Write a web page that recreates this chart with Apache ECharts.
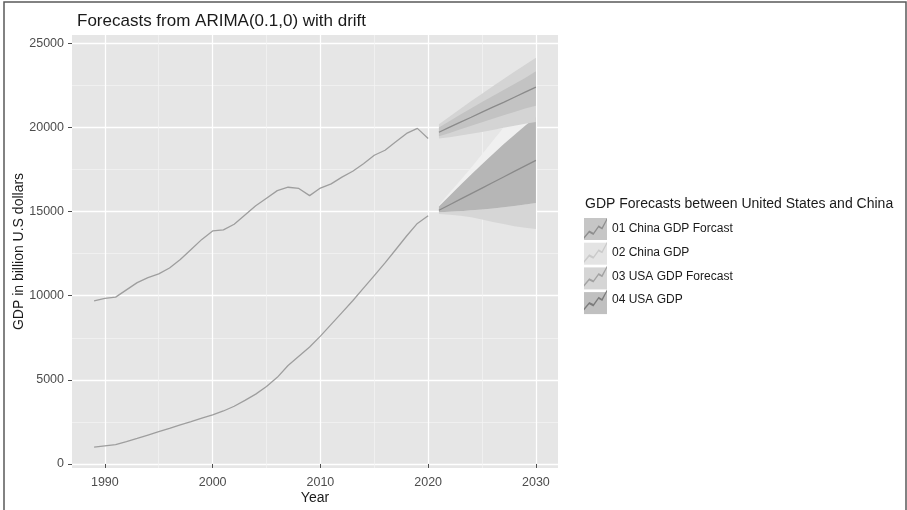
<!DOCTYPE html>
<html>
<head>
<meta charset="utf-8">
<script src="https://cdn.jsdelivr.net/npm/echarts@6/dist/echarts.min.js"></script>
<style>
html,body{margin:0;padding:0;background:#fff;}
#main{width:907px;height:510px;}
</style>
</head>
<body>
<div id="main"></div>
<script>
// ---- data ----
const histYears = [1989,1990,1991,1992,1993,1994,1995,1996,1997,1998,1999,2000,2001,2002,2003,2004,2005,2006,2007,2008,2009,2010,2011,2012,2013,2014,2015,2016,2017,2018,2019,2020];
const usaGdp = [9700,9840,9920,10350,10780,11080,11300,11650,12150,12750,13350,13850,13920,14250,14800,15350,15800,16250,16450,16380,15950,16400,16650,17050,17400,17850,18350,18650,19150,19650,19950,19350];
const chinaGdp = [1000,1080,1150,1330,1520,1720,1920,2120,2330,2520,2720,2920,3150,3430,3780,4150,4600,5150,5850,6400,6950,7600,8300,9000,9700,10450,11200,11950,12750,13550,14300,14750];
const fcYears = [2021,2022,2023,2024,2025,2026,2027,2028,2029,2030];
const usaFc   = [19720,20020,20320,20610,20910,21210,21500,21800,22100,22400];
const usaLo80 = [19480,19680,19890,20100,20310,20520,20730,20930,21130,21300];
const usaHi80 = [20000,20390,20770,21140,21510,21870,22230,22590,22950,23350];
const usaLo95 = [19350,19420,19520,19630,19740,19860,19980,20100,20220,20330];
const usaHi95 = [20200,20660,21120,21570,22010,22450,22880,23310,23730,24150];
const chnFc   = [15080,15410,15740,16070,16400,16730,17060,17390,17720,18050];
const chnLo80 = [14960,14990,15030,15080,15130,15190,15260,15330,15420,15520];
const chnHi80 = [15300,15950,16580,17200,17810,18410,19000,19560,20100,20620];
const chnLo95 = [14860,14810,14750,14660,14530,14390,14260,14130,14040,13970];
const chnHi95 = [15400,16130,16860,17620,18410,19210,20000,20760,21480,22170];
const xTicks = [1990,2000,2010,2020,2030];
const xMinor = [1995,2005,2015,2025];
const yTicks = [0,5000,10000,15000,20000,25000];
const yMinor = [2500,7500,12500,17500,22500];
const legendNames = ['01 China GDP Forcast','02 China GDP','03 USA GDP Forecast','04 USA GDP'];

// ---- helpers ----
function pairs(xs, ys){ return xs.map((x,i)=>[x, ys[i]]); }

const FONT = 'Liberation Sans, Arial, sans-serif';
const col = {
  bg:'#E6E6E6', usaLight:'#D4D4D4', usaDark:'#C3C3C3', chnDark:'#B6B6B6', chnLight:'#D6D6D6', chnPale:'#F0F0F0',
  hist:'#9E9E9E', fc:'#8A8A8A'
};

function band(name, lo, hi, fill, z){
  return {
    type:'custom', name:name, silent:true, z:z, clip:true,
    data: fcYears.map((x,i)=>[x, lo[i], hi[i]]),
    encode:{x:0, y:[1,2]},
    renderItem:function(params, api){
      if (params.dataIndex !== 0) return null;
      const pts = [];
      for (let i=0;i<fcYears.length;i++) pts.push(api.coord([fcYears[i], hi[i]]));
      for (let i=fcYears.length-1;i>=0;i--) pts.push(api.coord([fcYears[i], lo[i]]));
      return {type:'polygon', shape:{points:pts}, style:{fill:fill, stroke:null}};
    }
  };
}

const chart = echarts.init(document.getElementById('main'), null, {renderer:'canvas'});
const zig = 'path://M1,21L6,15L10,17L15,10L18,12L23,3L23,5.2L18.5,14L15,12.2L10,19.2L6,17.2L1,23.2Z';
const plain = function(v){ return String(v); };

const option = {
  animation:false,
  backgroundColor:'#ffffff',
  textStyle:{fontFamily:FONT},
  title:[
    {text:'Forecasts from ARIMA(0.1,0) with drift', left:72, top:8,
     textStyle:{fontFamily:FONT, fontSize:17, fontWeight:'normal', color:'#1a1a1a'}},
    {text:'GDP Forecasts between United States and China', left:580, top:192,
     textStyle:{fontFamily:FONT, fontSize:14, fontWeight:'normal', color:'#1a1a1a'}}
  ],
  graphic:[
    {type:'rect', shape:{x:4, y:2, width:902, height:520}, style:{fill:'none', stroke:'#5a5a5a', lineWidth:1.5}, silent:true, z:100}
  ],
  legend:[
    {orient:'vertical', left:579, top:213, itemWidth:23, itemHeight:22, itemGap:2.7, icon:'rect',
     formatter:function(){return '';}, selectedMode:false, z:2,
     textStyle:{fontSize:12},
     data:[
       {name:legendNames[0], itemStyle:{color:'#C6C6C6', borderWidth:0}},
       {name:legendNames[1], itemStyle:{color:'#E4E4E4', borderWidth:0}},
       {name:legendNames[2], itemStyle:{color:'#D5D5D5', borderWidth:0}},
       {name:legendNames[3], itemStyle:{color:'#C0C0C0', borderWidth:0}}
     ]},
    {orient:'vertical', left:579, top:213, itemWidth:23, itemHeight:22, itemGap:2.7, icon:zig,
     selectedMode:false, z:3, itemStyle:{borderWidth:0},
     textStyle:{fontFamily:FONT, fontSize:12, color:'#1a1a1a'},
     data:[
       {name:legendNames[0], itemStyle:{color:'#8E8E8E', borderWidth:0}},
       {name:legendNames[1], itemStyle:{color:'#CACACA', borderWidth:0}},
       {name:legendNames[2], itemStyle:{color:'#A2A2A2', borderWidth:0}},
       {name:legendNames[3], itemStyle:{color:'#7C7C7C', borderWidth:0}}
     ]}
  ],
  grid:{left:72, right:349, top:35, bottom:42, show:true, backgroundColor:col.bg, borderWidth:0, outerBoundsMode:'none', containLabel:false},
  xAxis:[
    {type:'value', min:1986.95, max:2032.05, name:'Year', nameLocation:'middle', nameGap:23, nameMoveOverlap:false,
     nameTextStyle:{fontFamily:FONT, fontSize:14, color:'#1a1a1a'},
     axisLine:{show:false},
     axisTick:{show:true, length:4, customValues:xTicks, lineStyle:{color:'#4d4d4d'}},
     axisLabel:{customValues:xTicks, formatter:plain, fontFamily:FONT, fontSize:12.5, color:'#4d4d4d', margin:8},
     splitLine:{show:true, lineStyle:{color:'#ffffff', width:1.3}}},
    {type:'value', min:1986.95, max:2032.05, position:'bottom',
     axisLine:{show:false}, axisTick:{show:false, customValues:xMinor},
     axisLabel:{show:false, customValues:xMinor},
     splitLine:{show:true, lineStyle:{color:'#F4F4F4', width:0.7}}}
  ],
  yAxis:[
    {type:'value', min:-240, max:25500, name:'GDP in billion U.S dollars', nameLocation:'middle', nameGap:46, nameMoveOverlap:false,
     nameTextStyle:{fontFamily:FONT, fontSize:14, color:'#1a1a1a'},
     axisLine:{show:false},
     axisTick:{show:true, length:4, customValues:yTicks, lineStyle:{color:'#4d4d4d'}},
     axisLabel:{customValues:yTicks, formatter:plain, fontFamily:FONT, fontSize:12.5, color:'#4d4d4d', margin:8},
     splitLine:{show:true, lineStyle:{color:'#ffffff', width:1.3}}},
    {type:'value', min:-240, max:25500, position:'left',
     axisLine:{show:false}, axisTick:{show:false, customValues:yMinor},
     axisLabel:{show:false, customValues:yMinor},
     splitLine:{show:true, lineStyle:{color:'#F4F4F4', width:0.7}}}
  ],
  series:[
    band('chn95lo', chnLo95, chnLo80, col.chnLight, 2),
    band('chn95hi', chnHi80, chnHi95, col.chnPale, 2),
    band('chn80', chnLo80, chnHi80, col.chnDark, 2),
    band('usa95', usaLo95, usaHi95, col.usaLight, 3),
    band('usa80', usaLo80, usaHi80, col.usaDark, 3),
    {name:legendNames[1], type:'line', data:pairs(histYears, chinaGdp), symbol:'none', z:5,
     lineStyle:{color:col.hist, width:1.3}, itemStyle:{color:col.hist}},
    {name:legendNames[3], type:'line', data:pairs(histYears, usaGdp), symbol:'none', z:5,
     lineStyle:{color:col.hist, width:1.3}, itemStyle:{color:col.hist}},
    {name:legendNames[0], type:'line', data:pairs(fcYears, chnFc), symbol:'none', z:5,
     lineStyle:{color:col.fc, width:1.3}, itemStyle:{color:col.fc}},
    {name:legendNames[2], type:'line', data:pairs(fcYears, usaFc), symbol:'none', z:5,
     lineStyle:{color:col.fc, width:1.3}, itemStyle:{color:col.fc}}
  ]
};
chart.setOption(option);
</script>
</body>
</html>
